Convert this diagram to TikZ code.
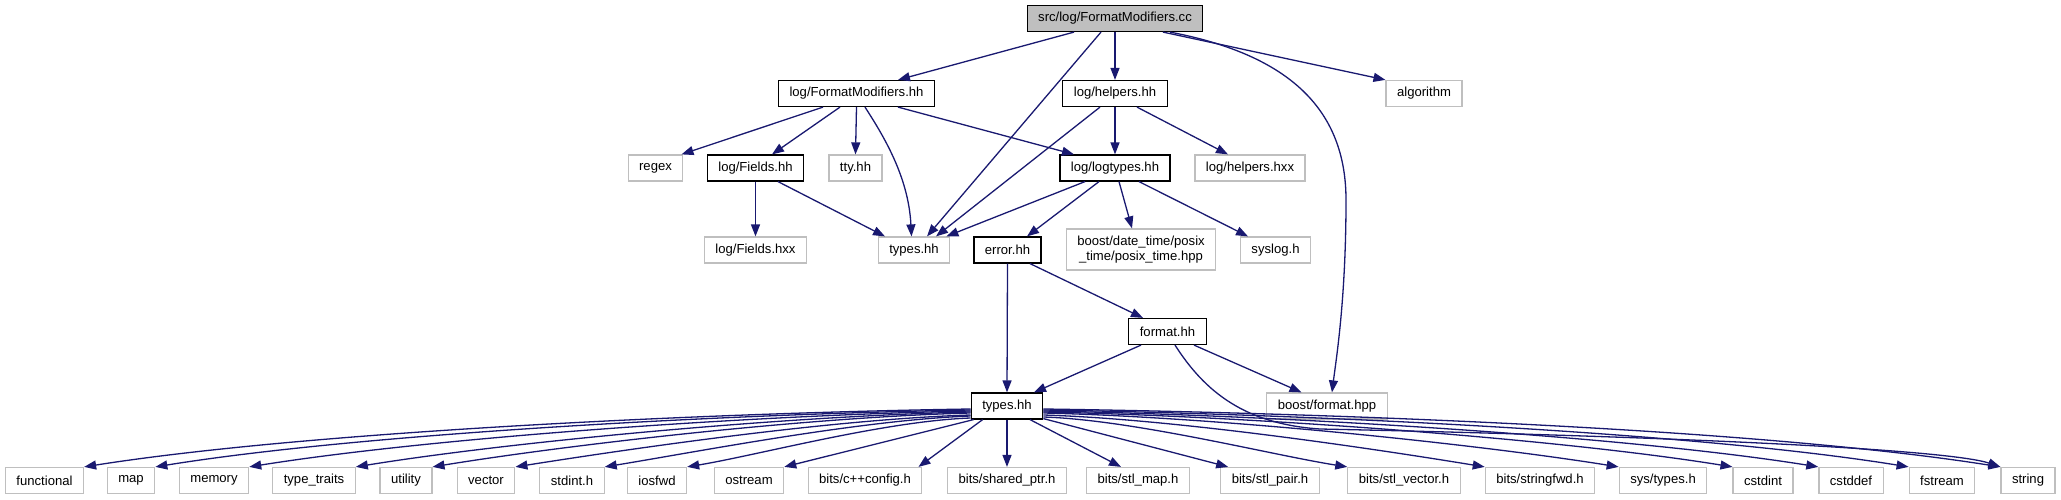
\documentclass[tikz,border=0pt]{standalone}
\usepackage{fontspec}
\setmainfont{Liberation Sans}
\usetikzlibrary{arrows.meta}
\definecolor{edgeblue}{HTML}{191970}
\definecolor{greyfill}{HTML}{BFBFBF}
\definecolor{greyline}{HTML}{BFBFBF}
\newcommand{\nodefont}{\fontsize{13.1pt}{15pt}\selectfont}
\tikzset{
  gbox/.style={rectangle, inner xsep=11pt, inner ysep=0pt, minimum height=26pt, line width=1.2pt, font=\nodefont, text=black},
  rootbox/.style={gbox, draw=black, fill=greyfill},
  docbox/.style={gbox, draw=black, fill=white},
  extbox/.style={gbox, draw=greyline, fill=white},
  dep/.style={draw=edgeblue, line width=1.3pt, -{Triangle[length=12pt,width=9pt]}}
}
\begin{document}
\begin{tikzpicture}[x=1pt,y=-1pt]
\useasboundingbox (0,0) rectangle (2061,500);
% row 0
\node[rootbox] (T) at (1115,18.5) {src/log/FormatModifiers.cc};
% row 1
\node[docbox] (FMH) at (856.5,93.5) {log/FormatModifiers.hh};
\node[docbox] (H) at (1115,93.5) {log/helpers.hh};
\node[extbox] (ALG) at (1424,93.5) {algorithm};
% row 2
\node[extbox] (RGX) at (655.5,168) {regex};
\node[docbox] (FH) at (755.5,168) {log/Fields.hh};
\node[extbox] (TTY) at (855.5,168) {tty.hh};
\node[docbox] (LT) at (1115,168) {log/logtypes.hh};
\node[extbox] (HX) at (1250,168) {log/helpers.hxx};
% row 3
\node[extbox] (FX) at (755.5,250) {log/Fields.hxx};
\node[extbox] (TU) at (914,250) {types.hh};
\node[docbox] (E) at (1007.5,250) {error.hh};
\node[extbox, minimum height=41pt, align=center] (PT) at (1141,249.5) {boost/date\_time/posix\\\_time/posix\_time.hpp};
\node[extbox] (SY) at (1275.5,250) {syslog.h};
% row 4
\node[docbox] (FO) at (1167.5,331.5) {format.hh};
% row 5
\node[docbox] (TL) at (1007,406) {types.hh};
\node[extbox] (BF) at (1327,406) {boost/format.hpp};
% row 6
\node[extbox] (B1) at (44.5,480.5) {functional};
\node[extbox] (B2) at (131,480.5) {map};
\node[extbox] (B3) at (214,480.5) {memory};
\node[extbox] (B4) at (314,480.5) {type\_traits};
\node[extbox] (B5) at (406,480.5) {utility};
\node[extbox] (B6) at (486,480.5) {vector};
\node[extbox] (B7) at (572,480.5) {stdint.h};
\node[extbox] (B8) at (657,480.5) {iosfwd};
\node[extbox] (B9) at (749,480.5) {ostream};
\node[extbox] (B10) at (865,480.5) {bits/c++config.h};
\node[extbox] (B11) at (1007,480.5) {bits/shared\_ptr.h};
\node[extbox] (B12) at (1138,480.5) {bits/stl\_map.h};
\node[extbox] (B13) at (1270,480.5) {bits/stl\_pair.h};
\node[extbox] (B14) at (1404,480.5) {bits/stl\_vector.h};
\node[extbox] (B15) at (1540,480.5) {bits/stringfwd.h};
\node[extbox] (B16) at (1663,480.5) {sys/types.h};
\node[extbox] (B17) at (1763,480.5) {cstdint};
\node[extbox] (B18) at (1851,480.5) {cstddef};
\node[extbox] (B19) at (1942,480.5) {fstream};
\node[extbox] (B20) at (2028,480.5) {string};

% edges from root
\draw[dep] ([xshift=-41pt]T.south) -- ([xshift=41.5pt]FMH.north);
\draw[dep] ([xshift=-14pt]T.south) -- ([xshift=13pt]TU.north);
\draw[dep] (T.south) -- (H.north);
\draw[dep] ([xshift=48pt]T.south) -- (ALG.north west);
\draw[dep] ([xshift=55pt]T.south) .. controls (1290,55) and (1346,110) .. (1346,200)
   .. controls (1346,300) and (1336,360) .. ([xshift=5pt]BF.north);
% from FormatModifiers.hh
\draw[dep] ([xshift=-33.5pt]FMH.south) -- ([xshift=-2pt]RGX.north east);
\draw[dep] ([xshift=-16.5pt]FMH.south) -- ([xshift=16.5pt]FH.north);
\draw[dep] (FMH.south) -- (TTY.north);
\draw[dep] ([xshift=8.5pt]FMH.south) .. controls +(18,28) and +(-3,-60) .. ([xshift=-2.5pt]TU.north);
\draw[dep] ([xshift=41.5pt]FMH.south) -- ([xshift=-41pt]LT.north);
% from helpers.hh
\draw[dep] ([xshift=-15pt]H.south) -- ([xshift=22pt]TU.north);
\draw[dep] (H.south) -- (LT.north);
\draw[dep] ([xshift=22pt]H.south) -- ([xshift=-22pt]HX.north);
% from Fields.hh
\draw[dep] (FH.south) -- (FX.north);
\draw[dep] ([xshift=22.5pt]FH.south) -- ([xshift=-29pt]TU.north);
% from logtypes.hh
\draw[dep] ([xshift=-30pt]LT.south) -- ([xshift=-4pt]TU.north east);
\draw[dep] ([xshift=-16pt]LT.south) -- ([xshift=19.5pt]E.north);
\draw[dep] ([xshift=4pt]LT.south) -- ([xshift=-9pt]PT.north);
\draw[dep] ([xshift=24pt]LT.south) -- ([xshift=-27.5pt]SY.north);
% from error.hh
\draw[dep] (E.south) -- (TL.north);
\draw[dep] ([xshift=22.5pt]E.south) -- ([xshift=-24.5pt]FO.north);
% from format.hh
\draw[dep] ([xshift=-26.5pt]FO.south) -- ([xshift=27pt]TL.north);
\draw[dep] ([xshift=26.5pt]FO.south) -- ([xshift=-25.5pt]BF.north);
\draw[dep] ([xshift=7.5pt]FO.south) .. controls (1205,392) and (1245,424) .. (1320,429)
   .. controls (1700,437) and (1950,450) .. (B20.north west);
% fan from lower types.hh, left
\draw[dep] ([yshift=-3pt]TL.west) .. controls +(-266,4) and +(222,-35) .. (B1.north east);
\draw[dep] ([yshift=-4pt]TL.west) .. controls +(-245,4) and +(204,-33) .. (B2.north east);
\draw[dep] ([yshift=-5pt]TL.west) .. controls +(-217,4) and +(181,-29) .. (B3.north east);
\draw[dep] ([yshift=-6pt]TL.west) .. controls +(-185,4) and +(154,-25) .. (B4.north east);
\draw[dep] ([yshift=-7pt]TL.west) .. controls +(-162,4) and +(135,-22) .. (B5.north east);
\draw[dep] ([yshift=-9pt]TL.west) .. controls +(-137,4) and +(114,-18) .. (B6.north east);
\draw[dep] ([yshift=-10pt]TL.west) .. controls +(-110,4) and +(92,-15) .. (B7.north east);
\draw[dep] ([yshift=-12pt]TL.west) .. controls +(-86,3) and +(72,-12) .. (B8.north east);
\draw[dep] ([xshift=3pt]TL.south west) -- (B9.north east);
\draw[dep] ([xshift=12pt]TL.south west) -- ([xshift=-4pt]B10.north east);
\draw[dep] (TL.south) -- (B11.north);
\draw[dep] ([xshift=23pt]TL.south) -- ([xshift=-17pt]B12.north);
\draw[dep] ([yshift=1pt]TL.south east) -- ([xshift=8pt]B13.north west);
% fan, right
\draw[dep] ([yshift=-11pt]TL.east) .. controls +(91,3) and +(-76,-12) .. (B14.north west);
\draw[dep] ([yshift=-9pt]TL.east) .. controls +(132,4) and +(-110,-18) .. (B15.north west);
\draw[dep] ([yshift=-7pt]TL.east) .. controls +(173,4) and +(-144,-23) .. (B16.north west);
\draw[dep] ([yshift=-6pt]TL.east) .. controls +(207,4) and +(-173,-28) .. (B17.north west);
\draw[dep] ([yshift=-5pt]TL.east) .. controls +(233,4) and +(-194,-31) .. (B18.north west);
\draw[dep] ([yshift=-4pt]TL.east) .. controls +(260,4) and +(-217,-35) .. (B19.north west);
\draw[dep] ([yshift=-3pt]TL.east) .. controls +(287,4) and +(-240,-38) .. (B20.north west);
\end{tikzpicture}
\end{document}
